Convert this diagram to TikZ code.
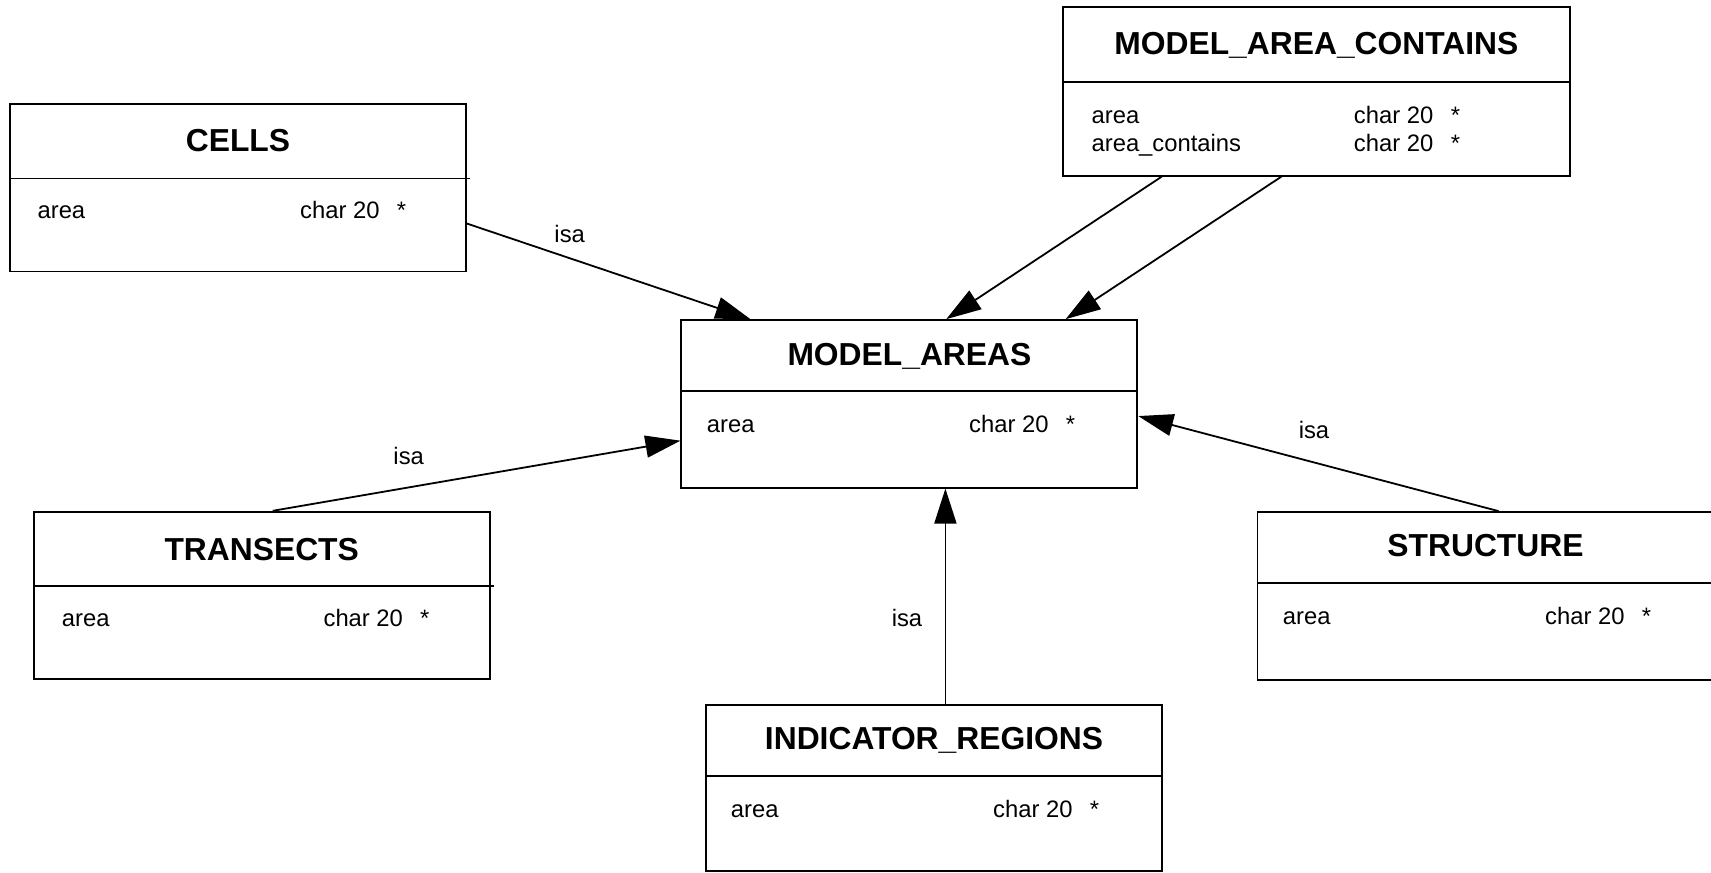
\documentclass[tikz,border=0pt]{standalone}
\usepackage{fontspec}
\setmainfont{Liberation Sans}
\usetikzlibrary{arrows.meta}
\newcommand{\tabtitle}{\fontsize{15.9}{19}\selectfont\bfseries}
\newcommand{\tabfield}{\fontsize{11.9}{14}\selectfont}

\begin{document}
\begin{tikzpicture}[x=0.5pt,y=-0.5pt,line width=0.9pt,
  tbl/.style={draw,inner sep=0pt,minimum width=228pt,minimum height=83.8pt},
  ttl/.style={font=\tabtitle,anchor=base,inner sep=0pt},
  fld/.style={font=\tabfield,anchor=base west,inner sep=0pt},
  lbl/.style={font=\tabfield,anchor=base,inner sep=0pt},
  isa/.style={-{Triangle[length=17.5pt,width=11pt]}}]
\useasboundingbox (0,0) rectangle (1711,872);

% tables
\node[tbl] (cells) at (238,187.75) {};
\draw (10,178.5) -- (470,178.5);
\node[ttl] (cells-t) at (238,151.7) {CELLS};
\node[fld] (cells-f1) at (36.7,218) {area};
\node[fld] (cells-c1) at (299.3,218) {char 20};
\node[fld] (cells-k1) at (396,218) {*};

\node[tbl,minimum width=253.65pt,minimum height=84.2pt] (mac) at (1316.35,91.5) {};
\draw (1062.7,81.7) -- (1570,81.7);
\node[ttl] (mac-t) at (1316.4,55) {MODEL\_AREA\_CONTAINS};
\node[fld] (mac-f1) at (1090.7,123.3) {area};
\node[fld] (mac-c1) at (1353,123.3) {char 20};
\node[fld] (mac-k1) at (1450,123.3) {*};
\node[fld] (mac-f2) at (1090.7,151.7) {area\_contains};
\node[fld] (mac-c2) at (1353,151.7) {char 20};
\node[fld] (mac-k2) at (1450,151.7) {*};

\node[tbl] (ma) at (909.35,403.85) {};
\draw (681.7,391.3) -- (1137,391.3);
\node[ttl] (ma-t) at (909.4,365) {MODEL\_AREAS};
\node[fld] (ma-f1) at (706,432.3) {area};
\node[fld] (ma-c1) at (968.3,432.3) {char 20};
\node[fld] (ma-k1) at (1065,432.3) {*};

\node[tbl] (trans) at (261.65,595.5) {};
\draw (33.3,586) -- (494,586);
\node[ttl] (trans-t) at (261.7,560) {TRANSECTS};
\node[fld] (trans-f1) at (61,626.7) {area};
\node[fld] (trans-c1) at (322.7,626.7) {char 20};
\node[fld] (trans-k1) at (419.3,626.7) {*};

\node[tbl] (struct) at (1485.5,595.85) {};
\draw (1257.7,583.3) -- (1713.3,583.3);
\node[ttl] (struct-t) at (1485.5,556.7) {STRUCTURE};
\node[fld] (struct-f1) at (1282,624.3) {area};
\node[fld] (struct-c1) at (1544.3,624.3) {char 20};
\node[fld] (struct-k1) at (1641,624.3) {*};

\node[tbl,minimum height=82.7pt] (ir) at (934,788) {};
\draw (706,775.7) -- (1162,775.7);
\node[ttl] (ir-t) at (934,749.3) {INDICATOR\_REGIONS};
\node[fld] (ir-f1) at (730,817) {area};
\node[fld] (ir-c1) at (992.3,817) {char 20};
\node[fld] (ir-k1) at (1089,817) {*};

% isa links
\draw[isa] ([yshift=-17.9pt]cells.east) -- ([xshift=35pt]ma.north west);
\node[lbl] (isa-cells) at (569.7,242.7) {isa};
\draw[isa] ([xshift=120pt]trans.north west) -- ([yshift=-18.4pt]ma.west);
\node[lbl] (isa-trans) at (408.7,464) {isa};
\draw[isa] ([xshift=121pt]struct.north west) -- ([yshift=-6.1pt]ma.east);
\node[lbl] (isa-struct) at (1314,438.3) {isa};
\draw[isa] ([xshift=120.15pt]ir.north west) coordinate (ir-top) -- (ma.south -| ir-top);
\node[lbl] (isa-ir) at (907,626.7) {isa};

% contains links
\draw[isa] ([xshift=50pt]mac.south west) -- ([xshift=132.9pt]ma.north west);
\draw[isa] ([xshift=109.8pt]mac.south west) -- ([xshift=192.6pt]ma.north west);
\end{tikzpicture}
\end{document}
